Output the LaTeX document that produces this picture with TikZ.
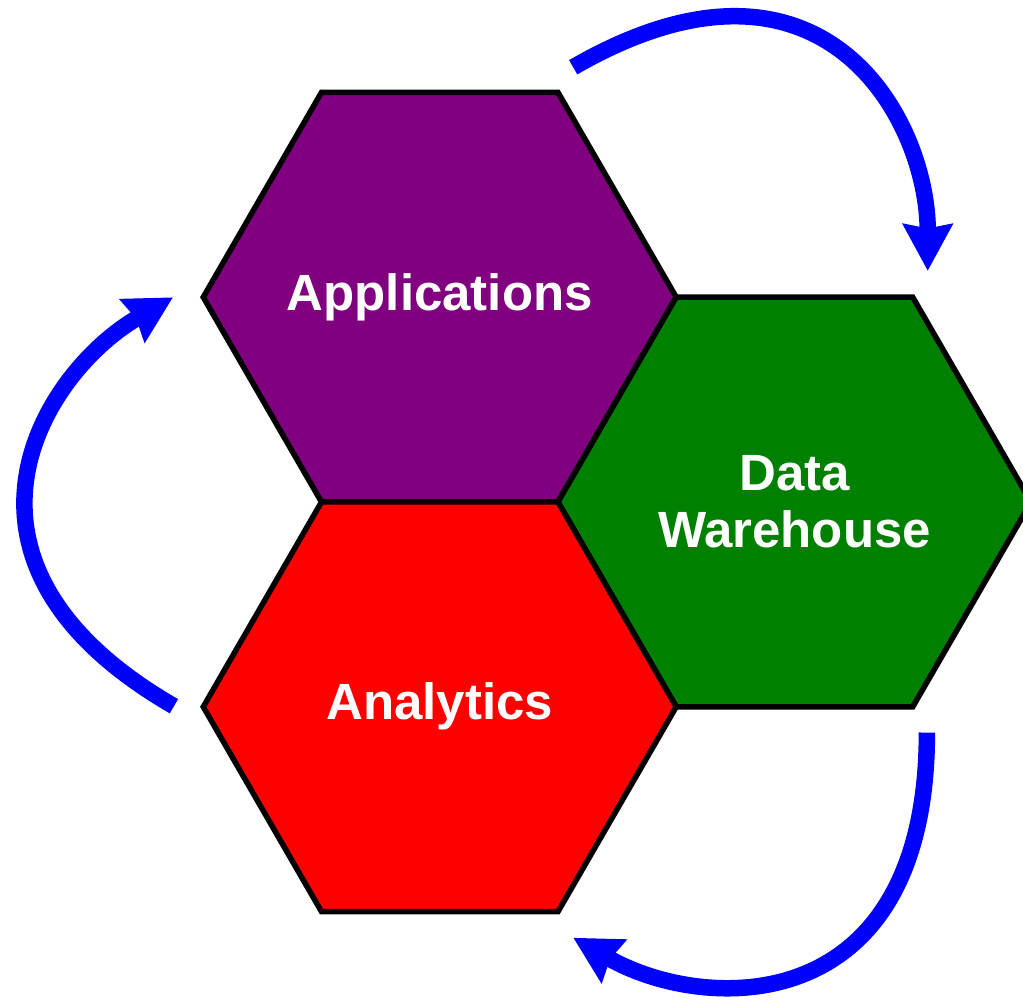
\documentclass[tikz,border=0pt]{standalone}
\usepackage{fontspec}
\setmainfont{Liberation Sans}
\usetikzlibrary{calc,arrows.meta,shapes.geometric}
\definecolor{appPurple}{RGB}{128,0,128}
\definecolor{dwGreen}{RGB}{0,128,0}
\definecolor{anaRed}{RGB}{255,0,0}
\definecolor{flowBlue}{RGB}{0,0,255}
\def\hexR{4.73}

\begin{document}
\begin{tikzpicture}[
		hexa/.style={regular polygon, regular polygon sides=6, minimum size=9.46cm, inner sep=0pt, outer sep=0pt, draw=black, line width=0.11cm},
		hexlabel/.style={text=white, align=center, font=\fontsize{29}{32.5}\selectfont\bfseries},
		flow/.style={draw=flowBlue, line width=0.33cm, -{Stealth[length=0.93cm, width=0.97cm, inset=0.08cm]}}
	]
			%%%%% START %%%%%
			
			\useasboundingbox (0, 0) rectangle (20.46, 20.02);
			\coordinate (mid) at (11.16, 9.98);
			
			\node[hexa, fill=appPurple] (app) at ($(mid)+(120:\hexR)$) {};
			\node[hexa, fill=dwGreen] (dw) at ($(mid)+(0:\hexR)$) {};
			\node[hexa, fill=anaRed] (ana) at ($(mid)+(240:\hexR)$) {};
			
			\node[hexlabel] (appText) at (app) {Applications};
			\node[hexlabel] (dwText) at (dw) {Data\\Warehouse};
			\node[hexlabel] (anaText) at (ana) {Analytics};
			
			\coordinate (appOut) at ($(mid)+(88:8.7)$);
			\coordinate (dwIn) at ($(mid)+(32:8.72)$);
			\coordinate (dwOut) at ($(mid)+(-32:8.7)$);
			\coordinate (anaIn) at ($(mid)+(-88:8.72)$);
			\coordinate (anaOut) at ($(mid)+(208:8.7)$);
			\coordinate (appIn) at ($(mid)+(152:8.72)$);
			
			\draw[flow] (appOut) .. controls +(30:5.8) and +(90:3) .. (dwIn);
			\draw[flow] (dwOut) .. controls +(-90:5.8) and +(-30:3) .. (anaIn);
			\draw[flow] (anaOut) .. controls +(150:5.8) and +(210:3) .. (appIn);
			
			%%%%% END %%%%%
\end{tikzpicture}
\end{document}
